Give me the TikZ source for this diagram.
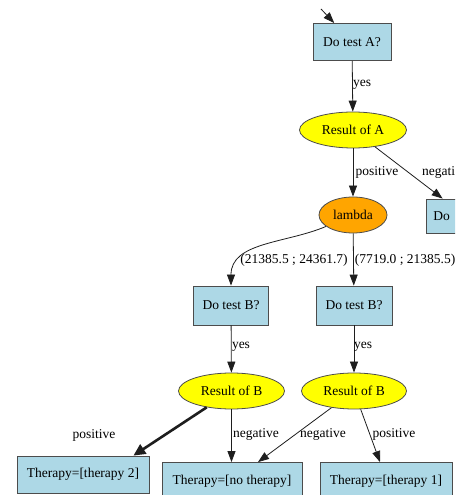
\documentclass[tikz,border=0pt]{standalone}
\usepackage{fontspec}
\setmainfont{Liberation Serif}
\usetikzlibrary{arrows.meta,shapes.geometric}
\definecolor{boxblue}{RGB}{173,216,230}
\definecolor{nodeyellow}{RGB}{255,255,0}
\definecolor{nodeorange}{RGB}{255,165,0}
\definecolor{edgegray}{RGB}{30,30,30}

\begin{document}
\begin{tikzpicture}[x=1pt, y=1pt, every node/.style={
    font=\fontsize{13.5}{16}\selectfont,
    inner sep=2pt,
  },
  testbox/.style={rectangle, draw=black!70, line width=0.8pt, fill=boxblue, minimum height=37pt},
  chance/.style={ellipse, draw=black!70, line width=0.8pt, fill=nodeyellow, minimum width=106pt, minimum height=36pt, inner sep=0pt},
  edge/.style={draw=edgegray, line width=0.8pt, -{Triangle[length=11pt,width=8pt]}},
  ]

  \useasboundingbox (0,0) rectangle (455,495);
  \clip (0,0) rectangle (455,495);

  \coordinate (c0) at (321,486);
  \node[testbox, minimum width=78pt] (n0) at (352,453) {Do test A?};
  \node[chance, minimum width=107pt] (n1) at (353,365) {Result of A};
  \node[chance, fill=nodeorange, minimum width=68pt] (n2) at (353,280) {lambda};
  \node[testbox, minimum height=34pt, text width=64pt, inner xsep=7pt, anchor=west] (n3) at (426,279) {Do};

  \draw[edge] (c0) -- (n0);
  \draw[edge] (n0) -- (n1);
  \draw[edge] (n1) -- (n2);
  \draw[edge] (n1) -- (n3);

  \node (l0) at (362,410) {yes};
  \node (l1) at (377,323) {positive};
  \node[anchor=west, inner sep=0pt] (l2) at (422,323) {negati};

  \node[testbox, minimum width=75pt, minimum height=39pt] (n4) at (231,189.5) {Do test B?};
  \node[testbox, minimum width=76pt, minimum height=39pt] (n5) at (354,189.5) {Do test B?};

  \draw[edge] (n2) to[out=203, in=90] (n4);
  \draw[edge] (n2) -- (n5);

  \node (l3) at (294,235) {(21385.5 ; 24361.7)};
  \node (l4) at (405,235) {(7719.0 ; 21385.5)};

  \node[chance] (n6) at (231.5,104) {Result of B};
  \node[chance, minimum width=105pt] (n7) at (354,104) {Result of B};

  \draw[edge] (n4) -- (n6);
  \draw[edge] (n5) -- (n7);
  \node (l5) at (241,148) {yes};
  \node (l6) at (363,148) {yes};

  \node[testbox, minimum width=132pt] (n8) at (83,20.5) {Therapy=[therapy 2]};
  \node[testbox, minimum width=140pt] (n9) at (232,14) {Therapy=[no therapy]};
  \node[testbox, minimum width=132pt] (n10) at (386,14) {Therapy=[therapy 1]};

  \draw[edge, line width=2.6pt, -{Triangle[length=12pt,width=11pt]}] (n6) -- ([xshift=-16pt]n8.north east);
  \draw[edge] (n6) -- (n6 |- n9.north);
  \draw[edge] (n7) -- ([xshift=26pt]n9.north);
  \draw[edge] (n7) -- ([xshift=-6pt]n10.north);

  \node (l7) at (94,60) {positive};
  \node[anchor=west, inner sep=0pt] (l8) at (233,61) {negative};
  \node (l9) at (323,61) {negative};
  \node (l10) at (394,61) {positive};

\end{tikzpicture}
\end{document}
